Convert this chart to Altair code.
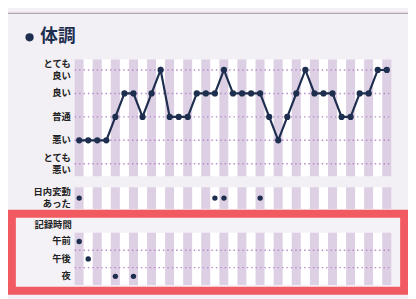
import altair as alt
import pandas as pd

# ---------------- data ----------------
days = list(range(1, 36))
condition = [2, 2, 2, 2, 3, 4, 4, 3, 4, 5, 3, 3, 3, 4, 4, 4, 5, 4, 4, 4,
             4, 3, 2, 3, 4, 5, 4, 4, 4, 3, 3, 4, 4, 5, 5]
level_values = [5, 4, 3, 2, 1]
level_labels = ["とても\n良い", "良い", "普通", "悪い", "とても\n悪い"]
fluct_days = [1, 16, 17, 21]
fluct_label = "日内変動\nあった"
record_rows = [1, 2, 3]
record_labels = ["午前", "午後", "夜"]
record_days = [1, 2, 5, 7]
record_times = [1, 2, 3, 3]
title_text = "体調"
record_title = "記録時間"

NAVY = "#1d2e4e"
PURPLE = "#ddcfe4"
GRID = "#b68bc8"
RED = "#f15a60"
FONT = "Noto Sans CJK JP"
LH = 12

cond_df = pd.DataFrame({"day": days, "v": condition})
stripe_df = pd.DataFrame({"day": days, "odd": [d % 2 == 1 for d in days]})
lvl_df = pd.DataFrame({"v": level_values, "label": level_labels})
lvl_one = lvl_df[~lvl_df["label"].str.contains("\n")]
lvl_two = lvl_df[lvl_df["label"].str.contains("\n")]
fl_df = pd.DataFrame({"day": fluct_days, "r": [1] * len(fluct_days)})
fl_lab = pd.DataFrame({"r": [1], "label": [fluct_label]})
rec_df = pd.DataFrame({"day": record_days, "r": record_times})
rec_lab = pd.DataFrame({"r": record_rows, "label": record_labels})
rec_grid = pd.DataFrame({"r": [1.5, 2.5]})

xs = alt.Scale(domain=[0.5, 35.5], range=[68, 391])
ys_main = alt.Scale(domain=[1, 5], range=[156, 60.3])
ys_fl = alt.Scale(domain=[0.5, 1.5], range=[202, 180])
ys_rec = alt.Scale(domain=[0.5, 3.5], range=[226.3, 279.7])

X = alt.X("day:Q", scale=xs, axis=None)


def stripes(y0, y1):
    return alt.Chart(stripe_df).mark_rect(strokeWidth=0).encode(
        x=alt.X("x0:Q", scale=xs, axis=None),
        x2="x1:Q",
        y=alt.value(y0), y2=alt.value(y1),
        color=alt.condition("datum.odd", alt.value(PURPLE), alt.value("#ffffff")),
    ).transform_calculate(x0="datum.day - 0.5", x1="datum.day + 0.5")


def label_mark(df, yscale, field, two_lines=False):
    return alt.Chart(df).mark_text(
        font=FONT, fontSize=9.5, fontWeight="bold", color="#222222", align="right",
        baseline="middle", lineBreak="\n", lineHeight=LH,
        dy=-LH / 2 if two_lines else 0,
    ).encode(y=alt.Y(f"{field}:Q", scale=yscale, axis=None), x=alt.value(64), text="label:N")


# top band and border
top_band = alt.Chart(pd.DataFrame({"a": [0]})).mark_rect(color="#f6e9f2").encode(
    x=alt.value(0), x2=alt.value(408), y=alt.value(0), y2=alt.value(2))
top_line = alt.Chart(pd.DataFrame({"a": [0]})).mark_rule(color="#9a979c", strokeWidth=1).encode(
    x=alt.value(0), x2=alt.value(408), y=alt.value(2.5))

# title
bullet = alt.Chart(pd.DataFrame({"a": [0]})).mark_circle(color=NAVY, size=70, opacity=1).encode(
    x=alt.value(22), y=alt.value(27))
title = alt.Chart(pd.DataFrame({"t": [title_text]})).mark_text(
    font=FONT, fontSize=18, fontWeight="bold", color=NAVY, align="left", baseline="middle"
).encode(x=alt.value(33), y=alt.value(27), text="t:N")

# main panel
main_stripes = stripes(49.7, 168.7)
main_grid = alt.Chart(lvl_df).mark_rule(color=GRID, strokeWidth=1.5, strokeDash=[1.5, 3]).encode(
    y=alt.Y("v:Q", scale=ys_main, axis=None), x=alt.value(68), x2=alt.value(391))
main_line = alt.Chart(cond_df).mark_line(color=NAVY, strokeWidth=2.2).encode(
    x=X, y=alt.Y("v:Q", scale=ys_main, axis=None))
main_pts = alt.Chart(cond_df).mark_circle(color=NAVY, size=40, opacity=1).encode(
    x=X, y=alt.Y("v:Q", scale=ys_main, axis=None))
main_lab1 = label_mark(lvl_one, ys_main, "v")
main_lab2 = label_mark(lvl_two, ys_main, "v", two_lines=True)

# fluctuation panel
fl_stripes = stripes(180, 202)
fl_pts = alt.Chart(fl_df).mark_circle(color=NAVY, size=30, opacity=1).encode(
    x=X, y=alt.Y("r:Q", scale=ys_fl, axis=None))
fl_text = label_mark(fl_lab, ys_fl, "r", two_lines=True)

# record panel with red frame
red_box = alt.Chart(pd.DataFrame({"a": [0]})).mark_rect(
    fill="#f4f2f7", stroke=RED, strokeWidth=8).encode(
    x=alt.value(4), x2=alt.value(404), y=alt.value(207), y2=alt.value(285.5))
rec_title_t = alt.Chart(pd.DataFrame({"t": [record_title]})).mark_text(
    font=FONT, fontSize=9.5, fontWeight="bold", color="#222222", align="right", baseline="middle"
).encode(x=alt.value(65), y=alt.value(218), text="t:N")
rec_stripes = stripes(226.3, 279.7)
rec_grid_l = alt.Chart(rec_grid).mark_rule(color=GRID, strokeWidth=1.5, strokeDash=[1.5, 3]).encode(
    y=alt.Y("r:Q", scale=ys_rec, axis=None), x=alt.value(68), x2=alt.value(391))
rec_pts = alt.Chart(rec_df).mark_circle(color=NAVY, size=30, opacity=1).encode(
    x=X, y=alt.Y("r:Q", scale=ys_rec, axis=None))
rec_text = label_mark(rec_lab, ys_rec, "r")

chart = alt.layer(
    top_band, top_line, bullet, title,
    main_stripes, main_grid, main_line, main_pts, main_lab1, main_lab2,
    fl_stripes, fl_pts, fl_text,
    red_box, rec_title_t, rec_stripes, rec_grid_l, rec_pts, rec_text,
).resolve_scale(y="independent").properties(
    width=408, height=291, padding=0,
    autosize=alt.AutoSizeParams(type="none"),
    background="#f3f0f5",
).configure_view(stroke=None)

chart.save("out.html", embed_options={"renderer": "svg", "actions": False})
